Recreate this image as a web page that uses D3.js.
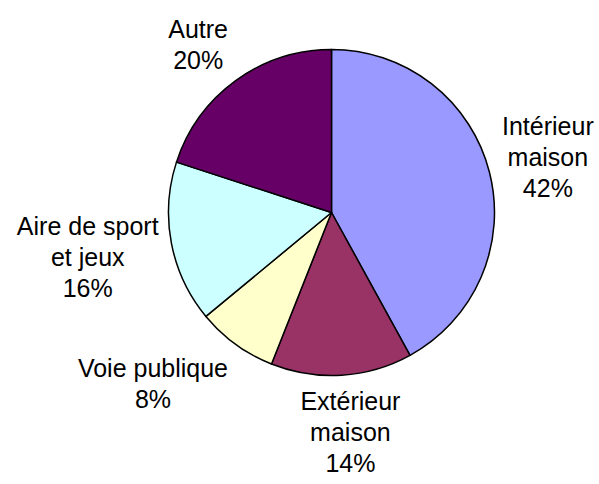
<!DOCTYPE html>
<html>
<head>
<meta charset="utf-8">
<script src="https://cdn.jsdelivr.net/npm/d3@7"></script>
<style>
  body { margin: 0; background: #fff; }
  svg { display: block; }
  .label { font-family: Arial, "Liberation Sans", sans-serif; font-size: 25px; fill: #000; }
</style>
</head>
<body>
<svg id="chart" width="599" height="484"></svg>
<script>
// Data
var categories = ['Intérieur maison', 'Extérieur maison', 'Voie publique', 'Aire de sport et jeux', 'Autre'];
var labelLines = [['Intérieur', 'maison'], ['Extérieur', 'maison'], ['Voie publique'], ['Aire de sport', 'et jeux'], ['Autre']];
var values = [42, 14, 8, 16, 20];
var colors = ['#9999ff', '#993366', '#ffffcc', '#ccffff', '#660066'];

var svg = d3.select('#chart');
var width = 599, height = 484;
var cx = 331.5, cy = 212.5, radius = 163;
var LINE_HEIGHT = 31, CAP = 18, DESCENT = 5;
var LABEL_SHIFT = 4;

var g = svg.append('g')
    .attr('transform', 'translate(' + cx + ',' + cy + ')');

var pie = d3.pie()
    .sort(null)
    .value(function(d) { return d.value; });

var data = categories.map(function(c, i) {
    return { name: c, lines: labelLines[i], value: values[i], color: colors[i] };
});
var total = d3.sum(values);

var arc = d3.arc()
    .innerRadius(0)
    .outerRadius(radius);

var arcs = pie(data);

g.selectAll('path.slice')
    .data(arcs)
    .enter().append('path')
    .attr('class', 'slice')
    .attr('d', arc)
    .style('fill', function(d) { return d.data.color; })
    .style('stroke', '#000')
    .style('stroke-width', 1.5)
    .style('stroke-linejoin', 'round');

// Labels, placed outside like the spreadsheet does: the box touches an anchor point
var LABEL_R = radius * 1.08;
var clamp = function(v) { return Math.max(-1, Math.min(1, v)); };

arcs.forEach(function(d) {
    var mid = (d.startAngle + d.endAngle) / 2;
    var s = Math.sin(mid), c = -Math.cos(mid);
    var ax = LABEL_R * s, ay = LABEL_R * c;

    var lines = d.data.lines.concat([Math.round(d.data.value / total * 100) + '%']);
    var text = g.append('text')
        .attr('class', 'label')
        .attr('text-anchor', 'middle');
    var spans = lines.map(function(l) {
        return text.append('tspan').text(l);
    });
    var w = d3.max(spans, function(t) { return t.node().getComputedTextLength(); });
    var h = (lines.length - 1) * LINE_HEIGHT + CAP + DESCENT;

    var bx = ax + clamp(s * 2.5) * w / 2;
    var by = ay + clamp(c * 1.25) * h / 2 + LABEL_SHIFT;
    var top = by - h / 2;

    spans.forEach(function(t, i) {
        t.attr('x', bx).attr('y', top + CAP + i * LINE_HEIGHT);
    });
});
</script>
</body>
</html>
